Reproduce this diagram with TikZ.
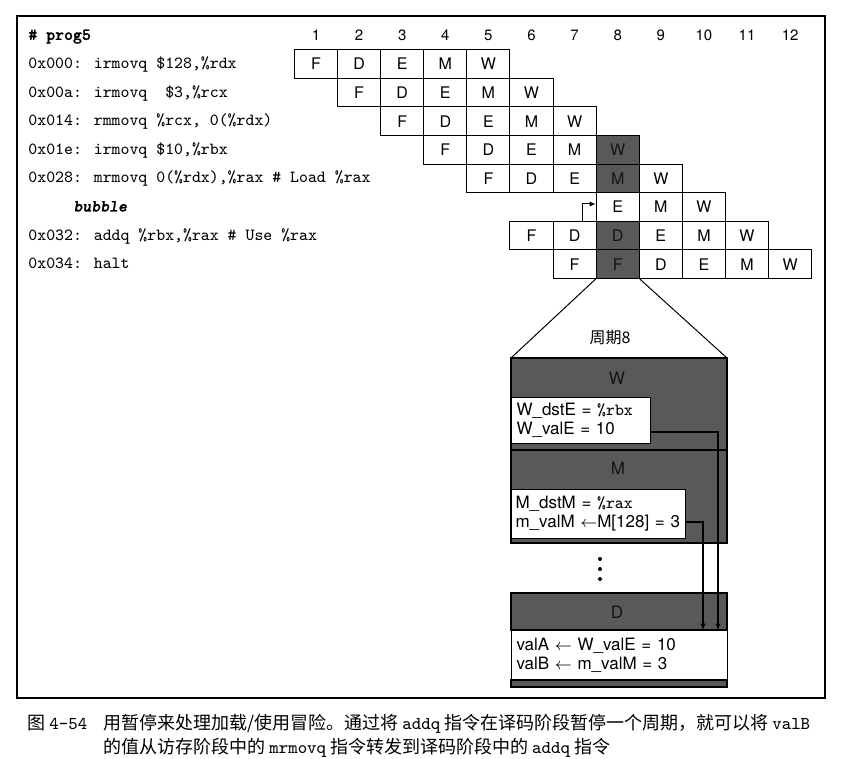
\documentclass[tikz,border=0pt]{standalone}
\usepackage{fontspec}
\setsansfont{TeX Gyre Heros}
\newfontfamily\cjk{Noto Sans CJK SC}
\newfontfamily\ttbf{lmmonolt10-bold.otf}[FakeBold=1.2]
\newfontfamily\ttbfit{lmmonolt10-boldoblique.otf}[FakeBold=1.2]
\usetikzlibrary{arrows.meta}

\tikzset{
  stage/.style={draw, line width=0.5pt, minimum width=21.55pt, minimum height=14.3pt, inner sep=0pt, font=\sffamily\fontsize{8}{9}\selectfont},
  stall/.style={stage, fill=black!65, text=black!92},
  cyc/.style={font=\sffamily\fontsize{7.5}{8}\selectfont},
  code/.style={anchor=west, inner sep=0pt, text height=6pt, text depth=1.5pt, font=\ttfamily\fontsize{8.5}{10}\selectfont},
  hazard/.style={fill=black!65, line width=0.6pt},
  boxlab/.style={font=\sffamily\fontsize{8.5}{9}\selectfont, text=black!92},
  valbox/.style={draw, fill=white, line width=0.5pt, anchor=north west, align=left, inner xsep=2.5pt, inner ysep=0pt, font=\sffamily\fontsize{8.5}{9.5}\selectfont},
  wire/.style={line width=1pt, -{Latex[length=3.2pt,width=2.8pt]}},
}

\begin{document}
\begin{tikzpicture}[x=0.5pt, y=-0.5pt]
\useasboundingbox (0,0) rectangle (854,758);

\draw[line width=0.7pt] (17,16) rectangle (825,698);

% program
\node[code, font=\ttbf\fontsize{8.5}{10}\selectfont] (hdr) at (28,35.4) {\# prog5};
\node[code] (i1) at (28,64) {0x000: irmovq \$128,\%rdx};
\node[code] (i2) at (28,92.6) {0x00a: irmovq\ \ \$3,\%rcx};
\node[code] (i3) at (28,121.2) {0x014: rmmovq \%rcx, 0(\%rdx)};
\node[code] (i4) at (28,149.8) {0x01e: irmovq \$10,\%rbx};
\node[code] (i5) at (28,178.4) {0x028: mrmovq 0(\%rdx),\%rax \# Load \%rax};
\node[code, font=\ttbfit\fontsize{8.5}{10}\selectfont] (i6) at (73,207) {bubble};
\node[code] (i7) at (28,235.6) {0x032: addq \%rbx,\%rax \# Use \%rax};
\node[code] (i8) at (28,264.2) {0x034: halt};

% pipeline
\begin{scope}[xshift=136.45pt, yshift=-17.7pt, x=21.55pt, y=-14.3pt]
\node[cyc] (n1) at (1,0) {1};
\node[cyc] (n2) at (2,0) {2};
\node[cyc] (n3) at (3,0) {3};
\node[cyc] (n4) at (4,0) {4};
\node[cyc] (n5) at (5,0) {5};
\node[cyc] (n6) at (6,0) {6};
\node[cyc] (n7) at (7,0) {7};
\node[cyc] (n8) at (8,0) {8};
\node[cyc] (n9) at (9,0) {9};
\node[cyc] (n10) at (10,0) {10};
\node[cyc] (n11) at (11,0) {11};
\node[cyc] (n12) at (12,0) {12};

\node[stage] (r1c1) at (1,1) {F};
\node[stage] (r1c2) at (2,1) {D};
\node[stage] (r1c3) at (3,1) {E};
\node[stage] (r1c4) at (4,1) {M};
\node[stage] (r1c5) at (5,1) {W};

\node[stage] (r2c2) at (2,2) {F};
\node[stage] (r2c3) at (3,2) {D};
\node[stage] (r2c4) at (4,2) {E};
\node[stage] (r2c5) at (5,2) {M};
\node[stage] (r2c6) at (6,2) {W};

\node[stage] (r3c3) at (3,3) {F};
\node[stage] (r3c4) at (4,3) {D};
\node[stage] (r3c5) at (5,3) {E};
\node[stage] (r3c6) at (6,3) {M};
\node[stage] (r3c7) at (7,3) {W};

\node[stage] (r4c4) at (4,4) {F};
\node[stage] (r4c5) at (5,4) {D};
\node[stage] (r4c6) at (6,4) {E};
\node[stage] (r4c7) at (7,4) {M};
\node[stall] (r4c8) at (8,4) {W};

\node[stage] (r5c5) at (5,5) {F};
\node[stage] (r5c6) at (6,5) {D};
\node[stage] (r5c7) at (7,5) {E};
\node[stall] (r5c8) at (8,5) {M};
\node[stage] (r5c9) at (9,5) {W};

\node[stage] (r6c8) at (8,6) {E};
\node[stage] (r6c9) at (9,6) {M};
\node[stage] (r6c10) at (10,6) {W};

\node[stage] (r7c6) at (6,7) {F};
\node[stage] (r7c7) at (7,7) {D};
\node[stall] (r7c8) at (8,7) {D};
\node[stage] (r7c9) at (9,7) {E};
\node[stage] (r7c10) at (10,7) {M};
\node[stage] (r7c11) at (11,7) {W};

\node[stage] (r8c7) at (7,8) {F};
\node[stall] (r8c8) at (8,8) {F};
\node[stage] (r8c9) at (9,8) {D};
\node[stage] (r8c10) at (10,8) {E};
\node[stage] (r8c11) at (11,8) {M};
\node[stage] (r8c12) at (12,8) {W};
\end{scope}

\draw[line width=0.5pt, -{Latex[length=3pt,width=2.6pt]}] ([xshift=3.7pt]r7c7.north) |- ([yshift=1.5pt]r6c8.west);

% cycle 8
\coordinate (cyctl) at (511,358);
\coordinate (cyctr) at (727,358);
\draw[line width=0.5pt] (r8c8.south west) -- (cyctl);
\draw[line width=0.5pt] (r8c8.south east) -- (cyctr);
\node[font=\cjk\fontsize{8}{9}\selectfont] (cyclab) at (610,338) {周期8};

\draw[hazard] (511,358) rectangle (727,450);
\node[boxlab] (wlab) at (617,378) {W};
\node[valbox, minimum width=69.5pt, minimum height=23pt, text width=64.5pt] (wval) at (511,397) {W\_dstE = {\ttfamily\%rbx}\\W\_valE = 10};

\draw[hazard] (511,450) rectangle (727,543);
\draw[line width=1.2pt] (511,450) -- (727,450);
\node[boxlab] (mlab) at (618,468) {M};
\node[valbox, inner xsep=2pt, minimum width=87pt, minimum height=24.5pt, text width=83pt] (mval) at (511,489) {M\_dstM = {\ttfamily\%rax}\\\mbox{m\_valM $\leftarrow$M[128] = 3}};

\fill (600,559) circle (1pt);
\fill (600,569) circle (1pt);
\fill (600,579) circle (1pt);

\draw[hazard] (511,593) rectangle (727,630);
\node[boxlab] (dlab) at (617,612) {D};
\node[valbox, minimum width=108pt, minimum height=25pt, text width=103pt] (dval) at (511,630) {valA $\leftarrow$ W\_valE = 10\\valB $\leftarrow$ m\_valM = 3};
\draw[hazard] (511,680) rectangle (727,687);

\coordinate (wend) at (718,630);
\coordinate (mend) at (703,630);
\draw[wire] ([yshift=-5.5pt]wval.east) -| (wend);
\draw[wire] ([yshift=-3.75pt]mval.east) -| (mend);

% caption
\node[anchor=base west, inner sep=0pt, font=\cjk\fontsize{9}{12}\selectfont] (capno) at (27,729) {图 {\ttfamily 4-54}};
\node[anchor=base west, inner sep=0pt, font=\cjk\fontsize{9}{12}\selectfont] (cap1) at (103,729) {用暂停来处理加载/使用冒险。通过将 {\ttfamily addq} 指令在译码阶段暂停一个周期，就可以将 {\ttfamily valB}};
\node[anchor=base west, inner sep=0pt, font=\cjk\fontsize{9}{12}\selectfont] (cap2) at (103,753) {的值从访存阶段中的 {\ttfamily mrmovq} 指令转发到译码阶段中的 {\ttfamily addq} 指令};

\end{tikzpicture}
\end{document}
